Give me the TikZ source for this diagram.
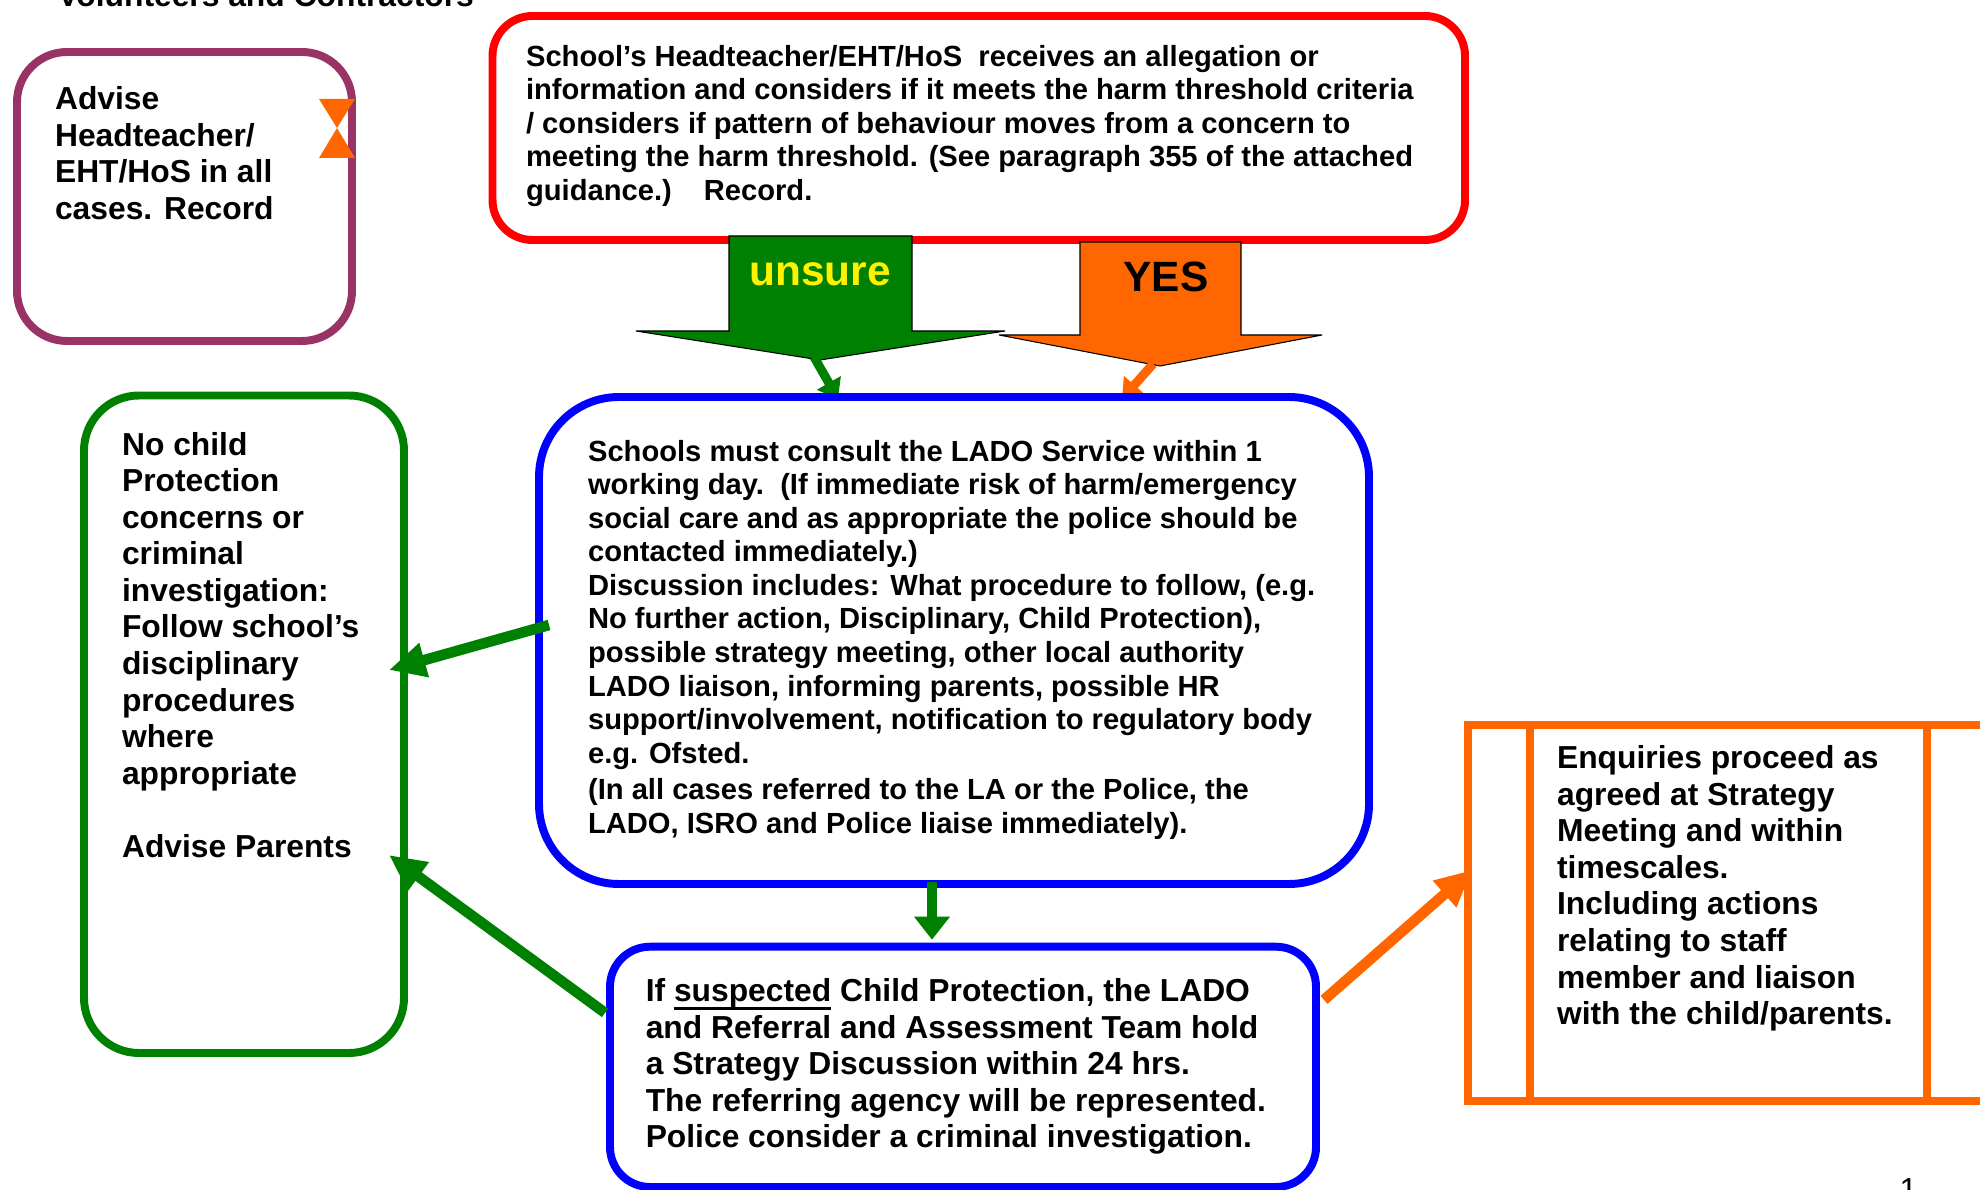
\documentclass[tikz,border=0pt]{standalone}
\usepackage{fontspec}
\setmainfont{Liberation Sans}
\usepackage{tikz}
\usetikzlibrary{arrows.meta,calc,positioning}
\definecolor{plum}{HTML}{993366}
\definecolor{ladoblue}{HTML}{0000FF}
\definecolor{cpgreen}{HTML}{008000}
\definecolor{yesorange}{HTML}{FF6600}
\definecolor{alertred}{HTML}{FF0000}
\newcommand{\pxu}{0.3774pt}
\newcommand{\ulword}[1]{\setbox0\hbox{#1}\rlap{\rule[-3.2pt]{\wd0}{1.1pt}}\box0\relax}
\tikzstyle{box}=[draw, rectangle, line width=3pt, fill=white, inner sep=0pt]
\tikzstyle{txt}=[anchor=north west, align=left, inner sep=0pt, font=\bfseries\fontsize{12}{13.8}\selectfont]
\tikzstyle{smalltxt}=[txt, font=\bfseries\fontsize{11}{12.65}\selectfont]
\tikzstyle{blockarrow}=[draw=black, line width=0.4pt]
\tikzstyle{flow}=[line width=4pt, -{Triangle[length=13.8pt,width=12.5pt]}]
\tikzstyle{tipline}=[line width=3.4pt, -{Triangle[length=7pt,width=10pt]}]

\begin{document}
\begin{tikzpicture}[x=\pxu, y=-\pxu]
\useasboundingbox (0,0) rectangle (1980,1190);
\clip (0,0) rectangle (1980,1190);

\node[anchor=base west, inner sep=0pt, font=\bfseries\fontsize{12}{13.8}\selectfont] (title) at (57,7) {Volunteers and Contractors};

% advise box
\node[box, draw=plum, minimum width=335*\pxu, minimum height=289*\pxu, rounded corners=50*\pxu] (advise) at (184.5,196.5) {};
\node[txt] (advisetxt) at ($(advise.north west)+(41.5,38)$) {Advise\\Headteacher/\\EHT/HoS in all\\cases. Record};
\fill[yesorange] (319,99) -- (355,99) -- (337,128) -- cycle;
\fill[yesorange] (319,158) -- (355,158) -- (337,128) -- cycle;

% allegation box
\node[box, draw=alertred, minimum width=972.5*\pxu, minimum height=224*\pxu, rounded corners=40*\pxu] (allegation) at (978.75,128) {};
\node[smalltxt] (allegationtxt) at ($(allegation.north west)+(37,32.7)$) {School’s Headteacher/EHT/HoS\ \ receives an allegation or\\information and considers if it meets the harm threshold criteria\\/ considers if pattern of behaviour moves from a concern to\\meeting the harm threshold. (See paragraph 355 of the attached\\guidance.)\hspace{1.1em}Record.};

% unsure / yes
\path[blockarrow, fill=cpgreen] (729,236) -- (912,236) -- (912,331) -- (1005,331) -- (820,360) -- (636,331) -- (729,331) -- cycle;
\node[inner sep=0pt, text=yellow, font=\bfseries\fontsize{16}{19}\selectfont] (unsure) at (820,274) {unsure};
\path[blockarrow, fill=yesorange] (1080,242) -- (1241,242) -- (1241,335) -- (1322,335) -- (1160,366) -- (999,335) -- (1080,335) -- cycle;
\node[inner sep=0pt, font=\bfseries\fontsize{16}{19}\selectfont] (yes) at (1166,277) {YES};
\coordinate (unsuretip) at (814,357);
\coordinate (unsureend) at (838,399);
\coordinate (yestip) at (1153,364);
\coordinate (yesend) at (1122,399);
\draw[tipline, cpgreen] (unsuretip) -- (unsureend);
\draw[tipline, yesorange] (yestip) -- (yesend);

% lado box
\node[box, draw=ladoblue, minimum width=830*\pxu, minimum height=487*\pxu, rounded corners=80*\pxu] (lado) at (954,640.5) {};
\node[smalltxt] (ladotxt) at ($(lado.north west)+(52.5,46.7)$) {Schools must consult the LADO Service within 1\\working day.\ \ (If immediate risk of harm/emergency\\social care and as appropriate the police should be\\contacted immediately.)\\Discussion includes: What procedure to follow, (e.g.\\No further action, Disciplinary, Child Protection),\\possible strategy meeting, other local authority\\LADO liaison, informing parents, possible HR\\support/involvement, notification to regulatory body\\e.g. Ofsted.\\[1.1pt](In all cases referred to the LA or the Police, the\\LADO, ISRO and Police liaise immediately).};

% no child protection box
\node[box, draw=cpgreen, minimum width=320*\pxu, minimum height=657.5*\pxu, rounded corners=55*\pxu] (nochild) at (244,724.25) {};
\node[txt] (nochildtxt) at ($(nochild.north west)+(41.5,40)$) {No child\\Protection\\concerns or\\criminal\\investigation:\\Follow school’s\\disciplinary\\procedures\\where\\appropriate\\[13.8pt]Advise Parents};

% strategy box
\node[box, draw=ladoblue, minimum width=706*\pxu, minimum height=240.3*\pxu, rounded corners=40*\pxu] (strategy) at (963,1066.85) {};
\node[txt] (strategytxt) at ($(strategy.north west)+(39.2,35.3)$) {If \ulword{suspected} Child Protection, the LADO\\and Referral and Assessment Team hold\\a Strategy Discussion within 24 hrs.\\The referring agency will be represented.\\Police consider a criminal investigation.};

% enquiries box
\node[box, draw=yesorange, minimum width=529*\pxu, minimum height=376*\pxu] (enquiries) at (1732.5,913) {};
\draw[yesorange, line width=3pt] ($(enquiries.north west)+(66,0)$) -- ($(enquiries.south west)+(66,0)$);
\draw[yesorange, line width=3pt] ($(enquiries.north west)+(463,0)$) -- ($(enquiries.south west)+(463,0)$);
\node[txt] (enquiriestxt) at ($(enquiries.north west)+(92.5,24)$) {Enquiries proceed as\\agreed at Strategy\\Meeting and within\\timescales.\\Including actions\\relating to staff\\member and liaison\\with the child/parents.};

% connectors
\draw[flow, cpgreen] ($(lado.west)+(14,-15.5)$) -- ($(nochild.east)+(-19,-54.25)$);
\draw[flow, cpgreen] ($(strategy.west)+(-1,-54)$) -- ($(nochild.east)+(-19,130.75)$);
\draw[line width=3.8pt, cpgreen, -{Triangle[length=8.7pt,width=13pt]}] ($(lado.south)+(-22,-6)$) -- ($(lado.south |- strategy.north)+(-22,-3)$);
\draw[flow, yesorange] ($(strategy.east)+(4,-67)$) -- ($(enquiries.west)+(8,-43)$);

\node[anchor=north west, inner sep=0pt, font=\fontsize{12}{13.8}\selectfont] (pagenum) at (1899,1178) {1};
\end{tikzpicture}
\end{document}
